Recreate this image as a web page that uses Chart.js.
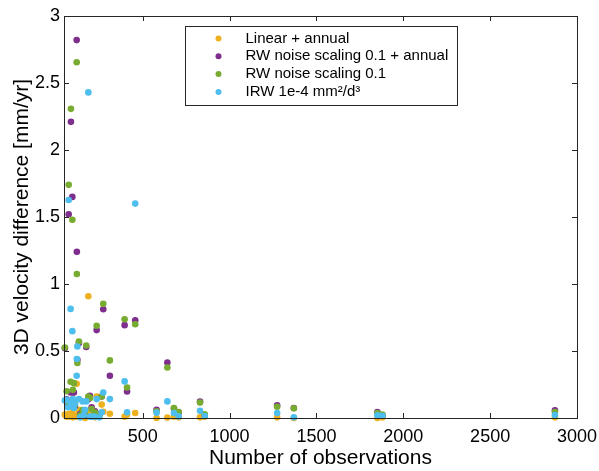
<!DOCTYPE html>
<html>
<head>
<meta charset="utf-8">
<script src="https://cdn.jsdelivr.net/npm/chart.js@4/dist/chart.umd.min.js"></script>
<style>
  html, body { margin: 0; padding: 0; background: #fff; }
  #wrap { width: 599px; height: 471px; }
</style>
</head>
<body>
<div id="wrap"><canvas id="scatterChart" width="599" height="471"></canvas></div>
<script>
// number of observations per station
const observations = [52, 62, 74, 87, 95, 85, 98, 120, 121, 124, 133, 110, 154, 168, 175, 187, 196, 206, 235, 264,
  250, 273, 311, 396, 410, 457, 580, 642, 680, 707, 830, 857, 1274, 1370, 1851, 1880, 2873, 140, 225, 70, 160, 104];

// 3D velocity difference [mm/yr] per noise model
const linearAnnual = [0.025, 0.01, 0.02, 0.03, 0.04, 0.01, 0.005, 0.256, 0.01, 0.02, 0.06, 0.015, 0.03, 0.0, 0.04, 0.909,
  0.05, 0.02, 0.16, 0.1, 0.01, 0.047, 0.032, 0.01, 0.025, 0.037, 0.0, 0.003, 0.01, 0.005, 0.005, 0.01, 0.005, 0.0,
  0.0, 0.005, 0.005, 0.015, 0.005, 0.03, 0.02, 0.01];
const rwAnnual = [0.52, 0.14, 1.52, 2.21, 1.65, 0.19, 0.19, 2.82, 1.24, 0.434, 0.56, 0.09, 0.05, 0.02, 0.53, 0.14,
  0.166, 0.08, 0.656, 0.161, 0.03, 0.812, 0.315, 0.693, 0.198, 0.73, 0.062, 0.414, 0.07, 0.04, 0.122, 0.02, 0.094,
  0.075, 0.045, 0.02, 0.057, 0.03, 0.05, 0.1, 0.04, 0.19];
const rw = [0.526, 0.2, 1.74, 2.307, 1.48, 0.27, 0.21, 2.655, 1.075, 0.41, 0.571, 0.1, 0.06, 0.03, 0.541, 0.16,
  0.15, 0.067, 0.688, 0.16, 0.02, 0.852, 0.43, 0.737, 0.228, 0.7, 0.05, 0.377, 0.074, 0.045, 0.115, 0.027, 0.084,
  0.072, 0.037, 0.025, 0.045, 0.02, 0.04, 0.12, 0.05, 0.26];
const irw = [0.13, 0.136, 1.627, 0.104, 0.648, 0.814, 0.141, 0.315, 0.44, 0.534, 0.141, 0.11, 0.124, 0.062, 0.124, 2.43,
  0.01, 0.01, 0.141, 0.042, 0.005, 0.19, 0.141, 0.273, 0.042, 1.6, 0.04, 0.124, 0.037, 0.012, 0.054, 0.015, 0.037,
  0.005, 0.02, 0.017, 0.022, 0.005, 0.01, 0.08, 0.02, 0.075];

const seriesNames = ["Linear + annual", "RW noise scaling 0.1 + annual", "RW noise scaling 0.1", "IRW 1e-4 mm\u00B2/d\u00B3"];
const seriesColors = ["#EDB120", "#7E2F8E", "#77AC30", "#4DBEEE"];
const xTicks = [500, 1000, 1500, 2000, 2500, 3000];
const yTicks = [0, 0.5, 1, 1.5, 2, 2.5, 3];

const axisColor = "#262626";
const fontFamily = "'Liberation Sans', Arial, sans-serif";

const pairs = (ys) => observations.map((x, i) => ({ x, y: ys[i] }));
const seriesData = [linearAnnual, rwAnnual, rw, irw];

// inward ticks and the axes box, matlab style
const boxPlugin = {
  id: "box",
  afterDatasetsDraw(chart) {
    const { ctx, chartArea: a, scales } = chart;
    const len = 5;
    ctx.save();
    ctx.strokeStyle = axisColor;
    ctx.lineWidth = 1;
    ctx.beginPath();
    xTicks.forEach((v) => {
      const px = Math.round(scales.x.getPixelForValue(v)) + 0.5;
      ctx.moveTo(px, a.bottom); ctx.lineTo(px, a.bottom - len);
      ctx.moveTo(px, a.top); ctx.lineTo(px, a.top + len);
    });
    yTicks.forEach((v) => {
      const py = Math.round(scales.y.getPixelForValue(v)) + 0.5;
      ctx.moveTo(a.left, py); ctx.lineTo(a.left + len, py);
      ctx.moveTo(a.right, py); ctx.lineTo(a.right - len, py);
    });
    ctx.stroke();
    ctx.strokeRect(Math.round(a.left) + 0.5, Math.round(a.top) + 0.5,
      Math.round(a.right - a.left), Math.round(a.bottom - a.top));
    ctx.restore();
  },
};

// legend box inside the axes
const legendPlugin = {
  id: "boxLegend",
  afterDraw(chart) {
    const { ctx } = chart;
    const left = 185, top = 26.5, w = 272, h = 79;
    ctx.save();
    ctx.fillStyle = "#fff";
    ctx.fillRect(left, top, w, h);
    ctx.strokeStyle = axisColor;
    ctx.lineWidth = 1;
    ctx.strokeRect(left + 0.5, top, w, h);
    ctx.font = "15px " + fontFamily;
    ctx.textBaseline = "middle";
    chart.data.datasets.forEach((ds, i) => {
      const y = top + 12 + i * 17.8;
      ctx.beginPath();
      ctx.fillStyle = ds.backgroundColor;
      ctx.arc(218.5, y, 3, 0, Math.PI * 2);
      ctx.fill();
      ctx.fillStyle = "#000";
      ctx.fillText(ds.label, 245.5, y);
    });
    ctx.restore();
  },
};

const chartConfig = {
  type: "scatter",
  data: {
    datasets: seriesNames.map((name, i) => ({
      label: name,
      data: pairs(seriesData[i]),
      backgroundColor: seriesColors[i],
      borderColor: seriesColors[i],
      borderWidth: 0,
      pointRadius: 3.3,
      order: 4 - i,
      clip: false,
    })),
  },
  options: {
    responsive: false,
    animation: false,
    layout: { padding: { left: 0, top: 16, right: 22, bottom: 0 } },
    plugins: { legend: { display: false }, tooltip: { enabled: false } },
    scales: {
      x: {
        type: "linear",
        min: 47,
        max: 3000,
        afterBuildTicks: (s) => { s.ticks = xTicks.map((value) => ({ value })); },
        afterFit: (s) => { s.height = 53; s.paddingRight = 0; },
        grid: { display: false, drawTicks: false },
        border: { display: false },
        ticks: {
          color: "#000", font: { size: 18, family: fontFamily }, padding: 8, maxRotation: 0,
          callback: (v) => String(v),
        },
        title: {
          display: true, text: "Number of observations", color: "#000",
          font: { size: 21, family: fontFamily }, padding: { top: 0, bottom: 0 },
        },
      },
      y: {
        type: "linear",
        min: 0,
        max: 3,
        afterBuildTicks: (s) => { s.ticks = yTicks.map((value) => ({ value })); },
        afterFit: (s) => { s.width = 64; },
        grid: { display: false, drawTicks: false },
        border: { display: false },
        ticks: { color: "#000", font: { size: 18, family: fontFamily }, padding: 4, callback: (v) => String(v) },
        title: {
          display: true, text: "3D velocity difference [mm/yr]", color: "#000",
          font: { size: 21, family: fontFamily }, padding: { top: 10, bottom: 0 },
        },
      },
    },
  },
  plugins: [boxPlugin, legendPlugin],
};

const sctx = document.getElementById("scatterChart").getContext("2d");
const sChart = new Chart(sctx, chartConfig);
</script>
</body>
</html>
